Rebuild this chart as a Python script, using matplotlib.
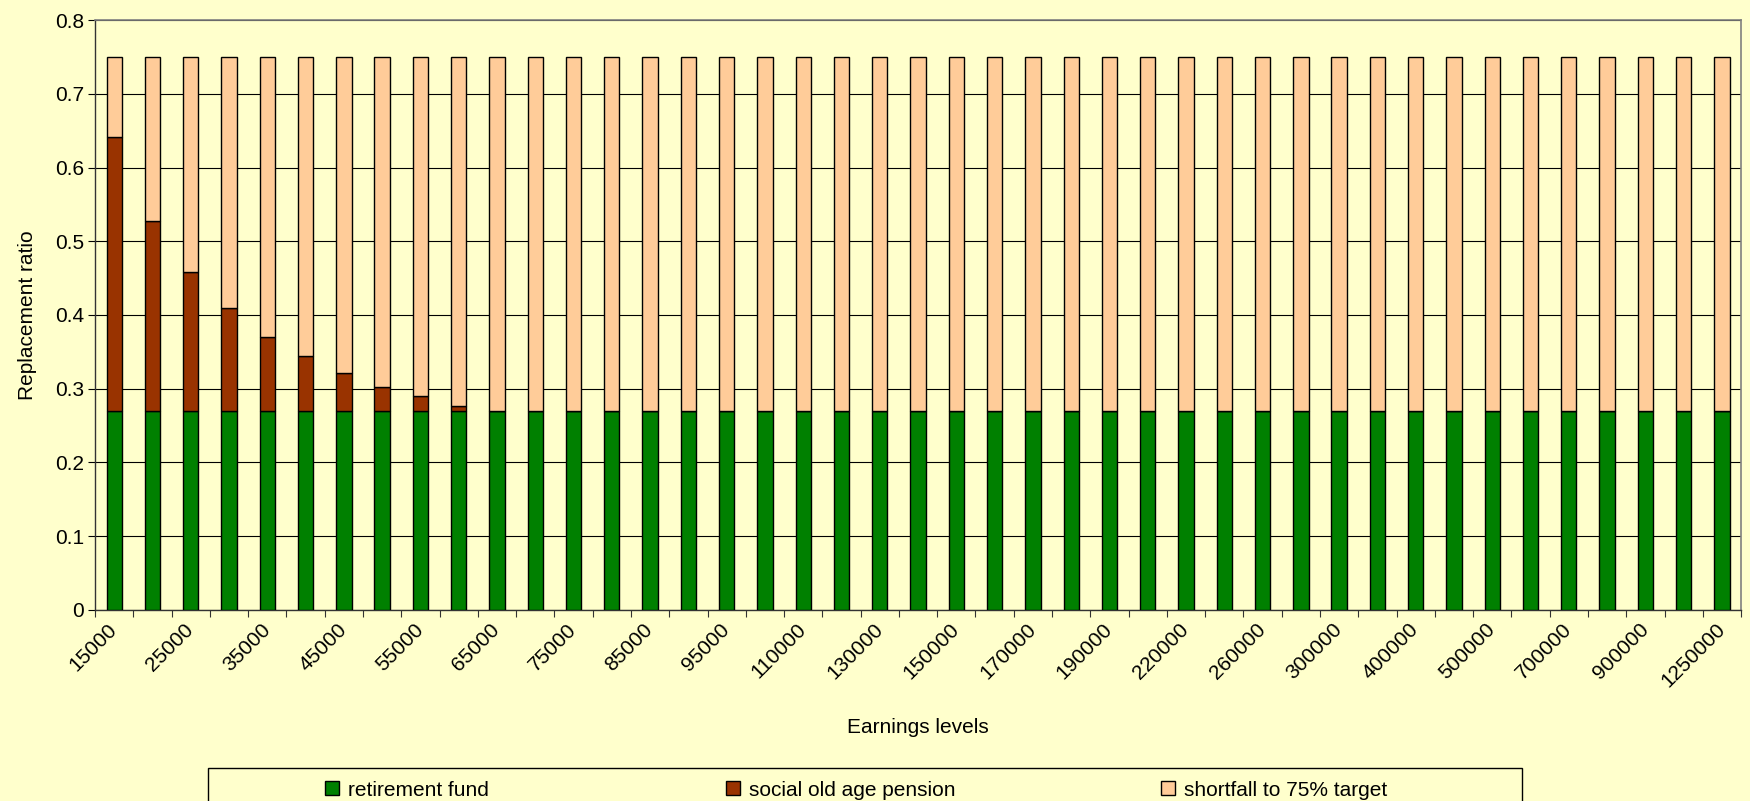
import matplotlib
matplotlib.use('Agg')
from matplotlib import pyplot as plt
from matplotlib.patches import Rectangle
import numpy as np

# earnings levels (categories)
earnings = [15000, 20000, 25000, 30000, 35000, 40000, 45000, 50000, 55000, 60000,
            65000, 70000, 75000, 80000, 85000, 90000, 95000, 100000, 110000, 120000,
            130000, 140000, 150000, 160000, 170000, 180000, 190000, 200000, 220000, 240000,
            260000, 280000, 300000, 350000, 400000, 450000, 500000, 600000, 700000, 800000,
            900000, 1000000, 1250000]

retirement_fund = [0.27, 0.27, 0.27, 0.27, 0.27, 0.27, 0.27, 0.27, 0.27, 0.27,
                   0.27, 0.27, 0.27, 0.27, 0.27, 0.27, 0.27, 0.27, 0.27, 0.27,
                   0.27, 0.27, 0.27, 0.27, 0.27, 0.27, 0.27, 0.27, 0.27, 0.27,
                   0.27, 0.27, 0.27, 0.27, 0.27, 0.27, 0.27, 0.27, 0.27, 0.27,
                   0.27, 0.27, 0.27]

social_pension = [0.372, 0.258, 0.188, 0.139, 0.100, 0.074, 0.051, 0.032, 0.020, 0.007,
                  0, 0, 0, 0, 0, 0, 0, 0, 0, 0,
                  0, 0, 0, 0, 0, 0, 0, 0, 0, 0,
                  0, 0, 0, 0, 0, 0, 0, 0, 0, 0,
                  0, 0, 0]

shortfall = [0.108, 0.222, 0.292, 0.341, 0.380, 0.406, 0.429, 0.448, 0.460, 0.473,
             0.48, 0.48, 0.48, 0.48, 0.48, 0.48, 0.48, 0.48, 0.48, 0.48,
             0.48, 0.48, 0.48, 0.48, 0.48, 0.48, 0.48, 0.48, 0.48, 0.48,
             0.48, 0.48, 0.48, 0.48, 0.48, 0.48, 0.48, 0.48, 0.48, 0.48,
             0.48, 0.48, 0.48]

series_names = ['retirement fund', 'social old age pension', 'shortfall to 75% target']

bg = '#FFFFCC'
colors = ['#008000', '#993300', '#FFCC99']
font_size = 15

plt.rcParams['font.family'] = ['Liberation Sans', 'DejaVu Sans']

fig = plt.figure(figsize=(17.5, 8.01), dpi=100, facecolor=bg)
ax = fig.add_axes([0.0543, 0.2385, 0.9406, 0.7365])
ax.set_facecolor(bg)

x = np.arange(len(earnings))
w = 0.4
b1 = np.array(retirement_fund)
b2 = b1 + np.array(social_pension)
bars = []
bars.append(ax.bar(x, retirement_fund, w, color=colors[0], edgecolor='k', linewidth=1.0, zorder=3))
bars.append(ax.bar(x, social_pension, w, bottom=b1, color=colors[1], edgecolor='k', linewidth=1.0, zorder=3))
bars.append(ax.bar(x, shortfall, w, bottom=b2, color=colors[2], edgecolor='k', linewidth=1.0, zorder=3))

ax.set_xlim(-0.5, len(earnings) - 0.5)
ax.set_ylim(0, 0.8)
ax.set_yticks(np.arange(0, 0.81, 0.1))
ax.set_yticklabels(['0', '0.1', '0.2', '0.3', '0.4', '0.5', '0.6', '0.7', '0.8'])
ax.yaxis.grid(True, color='k', linewidth=0.8, zorder=0)

# labels every other category, tick marks between categories
ax.set_xticks(x[::2])
ax.set_xticklabels([str(e) for e in earnings[::2]], rotation=45, ha='right',
                   rotation_mode='anchor', va='center')
ax.set_xticks(np.arange(-0.5, len(earnings), 1), minor=True)
ax.tick_params(axis='x', which='major', length=0, pad=12, labelsize=font_size)
ax.tick_params(axis='x', which='minor', length=5, width=0.8, color='#333333')
ax.tick_params(axis='y', length=5, width=0.8, labelsize=font_size, pad=3)

for s in ['top', 'right']:
    ax.spines[s].set_color('#808080')
    ax.spines[s].set_linewidth(1.2)
for s in ['left', 'bottom']:
    ax.spines[s].set_color('#333333')
    ax.spines[s].set_linewidth(1.0)

ax.set_xlabel('Earnings levels', fontsize=font_size, labelpad=19)
ax.set_ylabel('Replacement ratio', fontsize=font_size, labelpad=13)

# legend box at the bottom, cut by the figure edge
fig.patches.append(Rectangle((208 / 1750, -0.05), (1522 - 208) / 1750, 0.05 + (801 - 768) / 801,
                             transform=fig.transFigure, facecolor=bg, edgecolor='k',
                             linewidth=1.0, zorder=1))
leg_x = [317, 718, 1153]
for bar, name, lx in zip(bars, series_names, leg_x):
    leg = fig.legend([bar[0]], [name], frameon=False,
                     loc='center left', bbox_to_anchor=(lx / 1750, 1 - 790 / 801),
                     fontsize=font_size, handlelength=0.65, handleheight=0.65,
                     handletextpad=0.45, borderaxespad=0)
    leg.set_zorder(5)

fig.savefig('out.png', dpi=100, facecolor=bg)
